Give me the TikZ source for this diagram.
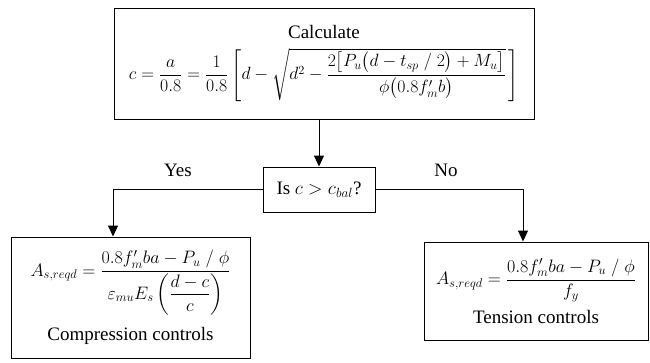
\RequirePackage{fix-cm}
\documentclass[tikz,border=0pt]{standalone}
\usepackage{amsmath}
\usepackage{fontspec}
\setmainfont{Liberation Serif}
\usepackage{tikz}
\usetikzlibrary{arrows.meta}

\newcommand{\mathsz}{\fontsize{18}{21}\selectfont}
\newcommand{\mathbig}{\fontsize{17.7}{21}\selectfont}

\begin{document}
\begin{tikzpicture}[x=1pt,y=-1pt,
  box/.style={draw, line width=1pt, align=center, inner sep=0pt},
  arr/.style={line width=1pt, -{Triangle[length=11pt,width=10pt]}},
  font=\fontsize{19}{23}\selectfont]

\useasboundingbox (0,0) rectangle (650,362);

%%%%% Top box
\node [box, minimum width=420pt, minimum height=111pt] (calc) at (324,63.5) {Calculate\\[8pt]
{\mathbig$c=\dfrac{a}{0.8}=\dfrac{1}{0.8}\left[d-\sqrt{d^{2}-\dfrac{2\bigl[P_{u}\bigl(d-t_{sp}\;/\;2\bigr)+M_{u}\bigr]}{\phi\bigl(0.8f'_{m}b\bigr)}}\,\right]$}};

%%%%% Decision
\node [box, minimum width=112pt, minimum height=45pt] (dec) at (319,189.5) {Is $c>c_{bal}$?};

\draw [arr] (calc.south -| dec.north) -- (dec.north);

%%%%% Yes branch
\node [box, minimum width=239pt, minimum height=121pt] (comp) at (130.5,297.5) {{\mathsz$A_{s,reqd}=\dfrac{0.8f'_{m}ba-P_{u}\;/\;\phi}{\varepsilon_{mu}E_{s}\left(\dfrac{d-c}{c}\right)}$}\\[11pt]
Compression controls};
\coordinate (yesend) at ([xshift=-17.5pt]comp.north);
\draw [arr] (dec.west) -| (yesend);
\node (yes) at (178,170) {Yes};

%%%%% No branch
\node [box, minimum width=224pt, minimum height=98pt] (tens) at (536,291) {{\mathsz$A_{s,reqd}=\dfrac{0.8f'_{m}ba-P_{u}\;/\;\phi}{f_{y}}$}\\[7pt]
Tension controls};
\coordinate (noend) at ([xshift=-13pt]tens.north);
\draw [arr] (dec.east) -| (noend);
\node (no) at (446,170) {No};

\end{tikzpicture}
\end{document}
